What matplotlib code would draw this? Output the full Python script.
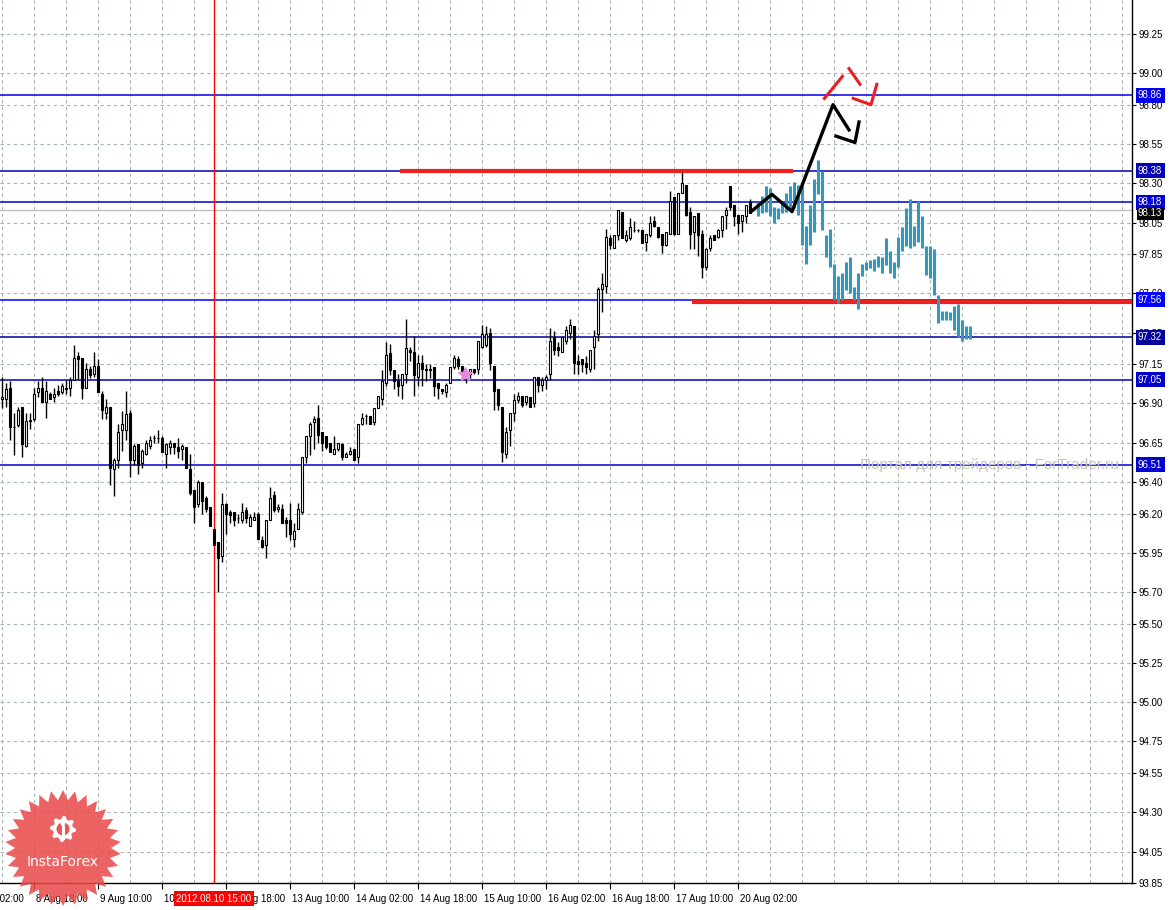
import matplotlib.pyplot as plt
import numpy as np
from matplotlib.patches import Polygon, Circle

plt.rcParams['font.family'] = ['Liberation Sans', 'DejaVu Sans']

# H1 candles, bar 0 = 2012.08.08 10:00
opens = [96.93, 96.93, 97.00, 96.75, 96.76, 96.88, 96.63, 96.79, 96.80, 96.97,
         97.00, 96.91, 96.96, 96.94, 96.98, 96.97, 97.00, 97.00, 97.05, 97.20,
         97.19, 97.00, 97.12, 97.09, 97.14, 96.96, 96.84, 96.88, 96.48, 96.54,
         96.73, 96.73, 96.84, 96.54, 96.64, 96.52, 96.58, 96.63, 96.68, 96.68,
         96.68, 96.58, 96.62, 96.65, 96.62, 96.61, 96.62, 96.48, 96.35, 96.26,
         96.40, 96.30, 96.24, 96.10, 96.02, 95.93, 96.26, 96.21, 96.21, 96.17,
         96.16, 96.22, 96.12, 96.16, 96.20, 96.03, 96.00, 96.16, 96.32, 96.23,
         96.23, 96.16, 96.16, 96.04, 96.10, 96.21, 96.56, 96.69, 96.78, 96.81,
         96.72, 96.69, 96.65, 96.58, 96.61, 96.64, 96.56, 96.58, 96.61, 96.56,
         96.77, 96.82, 96.82, 96.78, 96.87, 96.93, 97.03, 97.22, 97.11, 97.05,
         97.02, 97.09, 97.24, 97.23, 97.07, 97.16, 97.12, 97.11, 97.13, 97.03,
         96.99, 96.97, 97.03, 97.13, 97.18, 97.14, 97.08, 97.09, 97.12, 97.12,
         97.26, 97.27, 97.35, 97.14, 96.99, 96.88, 96.58, 96.73, 96.84, 96.92,
         96.95, 96.91, 96.94, 96.90, 97.07, 97.02, 97.05, 97.09, 97.32, 97.26,
         97.23, 97.30, 97.35, 97.39, 97.17, 97.18, 97.16, 97.12, 97.26, 97.34,
         97.63, 97.65, 97.95, 97.89, 97.97, 98.12, 97.94, 97.95, 98.00, 98.00,
         98.00, 97.93, 97.97, 98.06, 98.02, 97.98, 97.91, 97.98, 98.21, 97.98,
         98.24, 98.29, 98.12, 97.99, 98.11, 97.98, 97.77, 97.89, 97.97, 97.96,
         98.00, 98.10, 98.28, 98.16, 98.10, 98.06, 98.09, 98.18]
highs = [97.07, 97.03, 97.04, 96.84, 96.88, 96.88, 96.84, 96.84, 97.00, 97.04,
         97.07, 97.04, 96.97, 97.00, 97.02, 97.03, 97.05, 97.07, 97.27, 97.23,
         97.19, 97.16, 97.14, 97.23, 97.18, 96.98, 96.93, 96.88, 96.55, 96.77,
         96.85, 96.98, 96.86, 96.64, 96.64, 96.61, 96.67, 96.69, 96.70, 96.73,
         96.69, 96.65, 96.67, 96.65, 96.68, 96.64, 96.62, 96.58, 96.35, 96.41,
         96.40, 96.31, 96.24, 96.10, 96.02, 96.33, 96.27, 96.22, 96.21, 96.20,
         96.27, 96.24, 96.20, 96.21, 96.21, 96.06, 96.16, 96.37, 96.34, 96.26,
         96.26, 96.18, 96.27, 96.14, 96.27, 96.56, 96.69, 96.78, 96.82, 96.89,
         96.72, 96.69, 96.65, 96.69, 96.65, 96.65, 96.59, 96.62, 96.61, 96.77,
         96.84, 96.83, 96.82, 96.87, 96.95, 97.11, 97.29, 97.28, 97.11, 97.09,
         97.09, 97.44, 97.26, 97.33, 97.21, 97.21, 97.15, 97.15, 97.13, 97.03,
         96.99, 97.03, 97.13, 97.21, 97.20, 97.14, 97.12, 97.12, 97.12, 97.30,
         97.40, 97.39, 97.38, 97.14, 96.99, 96.88, 96.75, 96.84, 96.96, 96.97,
         96.95, 96.95, 96.94, 97.07, 97.07, 97.07, 97.08, 97.38, 97.36, 97.29,
         97.32, 97.39, 97.44, 97.39, 97.21, 97.18, 97.20, 97.24, 97.37, 97.64,
         97.73, 98.01, 97.97, 97.97, 98.13, 98.12, 98.00, 98.08, 98.06, 98.01,
         98.00, 97.98, 98.09, 98.09, 98.02, 97.98, 97.99, 98.25, 98.21, 98.24,
         98.37, 98.29, 98.15, 98.09, 98.11, 98.00, 97.89, 97.97, 97.97, 98.01,
         98.09, 98.15, 98.28, 98.16, 98.10, 98.10, 98.16, 98.20]
lows = [96.87, 96.88, 96.67, 96.57, 96.75, 96.56, 96.62, 96.74, 96.79, 96.94,
        96.91, 96.81, 96.93, 96.91, 96.95, 96.96, 96.96, 96.95, 97.05, 97.05,
        96.93, 97.00, 97.06, 97.07, 96.97, 96.80, 96.80, 96.38, 96.31, 96.49,
        96.60, 96.67, 96.43, 96.51, 96.45, 96.49, 96.57, 96.61, 96.65, 96.65,
        96.59, 96.49, 96.58, 96.58, 96.55, 96.54, 96.49, 96.32, 96.14, 96.24,
        96.20, 96.21, 96.12, 96.00, 95.70, 95.89, 96.07, 96.14, 96.12, 96.14,
        96.14, 96.14, 96.12, 96.16, 96.04, 95.98, 95.92, 96.16, 96.21, 96.21,
        96.14, 96.05, 96.03, 95.99, 96.10, 96.20, 96.52, 96.57, 96.61, 96.65,
        96.60, 96.61, 96.59, 96.58, 96.60, 96.54, 96.56, 96.57, 96.54, 96.52,
        96.76, 96.77, 96.77, 96.76, 96.87, 96.89, 97.01, 97.08, 96.99, 96.95,
        96.93, 97.03, 97.17, 96.95, 97.01, 97.01, 97.04, 97.06, 96.95, 96.93,
        96.96, 96.94, 97.03, 97.12, 97.12, 97.08, 97.03, 97.06, 97.09, 97.09,
        97.25, 97.26, 97.11, 96.86, 96.86, 96.53, 96.55, 96.63, 96.79, 96.90,
        96.88, 96.89, 96.88, 96.88, 96.97, 96.98, 96.99, 97.05, 97.21, 97.20,
        97.23, 97.28, 97.31, 97.09, 97.09, 97.10, 97.09, 97.10, 97.12, 97.30,
        97.48, 97.60, 97.88, 97.89, 97.94, 97.95, 97.93, 97.94, 97.99, 97.99,
        97.92, 97.87, 97.96, 98.02, 97.95, 97.86, 97.90, 97.98, 97.97, 97.98,
        98.24, 98.09, 97.88, 97.88, 97.84, 97.70, 97.75, 97.87, 97.94, 97.95,
        97.96, 98.01, 98.13, 98.03, 97.98, 97.99, 98.05, 98.11]
closes = [96.94, 96.99, 96.75, 96.75, 96.86, 96.64, 96.79, 96.79, 96.96, 97.00,
          96.91, 96.98, 96.93, 96.96, 96.96, 97.01, 96.99, 97.05, 97.19, 97.18,
          97.00, 97.12, 97.08, 97.14, 96.97, 96.86, 96.88, 96.49, 96.54, 96.72,
          96.77, 96.83, 96.54, 96.63, 96.51, 96.60, 96.65, 96.67, 96.68, 96.68,
          96.59, 96.64, 96.65, 96.62, 96.60, 96.63, 96.49, 96.33, 96.24, 96.40,
          96.28, 96.23, 96.12, 96.00, 95.92, 96.26, 96.20, 96.19, 96.16, 96.17,
          96.21, 96.17, 96.18, 96.18, 96.04, 95.99, 96.16, 96.30, 96.22, 96.24,
          96.14, 96.14, 96.07, 96.09, 96.23, 96.56, 96.69, 96.77, 96.80, 96.70,
          96.65, 96.62, 96.59, 96.61, 96.65, 96.56, 96.58, 96.60, 96.54, 96.77,
          96.81, 96.82, 96.77, 96.87, 96.95, 97.04, 97.21, 97.11, 97.04, 97.01,
          97.09, 97.25, 97.23, 97.08, 97.16, 97.12, 97.11, 97.12, 97.01, 97.00,
          96.98, 97.02, 97.13, 97.19, 97.14, 97.09, 97.10, 97.12, 97.10, 97.30,
          97.34, 97.34, 97.16, 96.98, 96.89, 96.59, 96.72, 96.84, 96.92, 96.95,
          96.89, 96.95, 96.88, 97.07, 97.02, 97.05, 97.07, 97.30, 97.24, 97.24,
          97.32, 97.37, 97.40, 97.16, 97.15, 97.15, 97.13, 97.24, 97.33, 97.63,
          97.66, 97.96, 97.91, 97.97, 98.13, 97.95, 97.97, 98.02, 98.00, 98.00,
          97.92, 97.98, 98.05, 98.03, 97.96, 97.91, 97.99, 98.19, 97.98, 98.24,
          98.30, 98.10, 97.98, 98.09, 97.97, 97.77, 97.88, 97.95, 97.94, 98.00,
          98.09, 98.13, 98.15, 98.09, 98.05, 98.10, 98.16, 98.11]

# overlay of a past pattern (teal bars), starts at bar 189
pattern_start = 189
pattern_high = [98.18, 98.22, 98.28, 98.27, 98.15, 98.14, 98.19, 98.24, 98.28, 98.31,
                98.29, 98.29, 98.03, 98.16, 98.33, 98.45, 98.38, 97.97, 98.01, 97.79,
                97.71, 97.73, 97.80, 97.83, 97.64, 97.73, 97.79, 97.80, 97.81, 97.82,
                97.84, 97.83, 97.95, 97.87, 97.80, 97.96, 98.02, 98.14, 98.20, 98.03,
                98.19, 98.09, 97.90, 97.90, 97.88, 97.59, 97.49, 97.49, 97.48, 97.52,
                97.53, 97.43, 97.39, 97.39]
pattern_low = [98.09, 98.11, 98.12, 98.09, 98.05, 98.07, 98.11, 98.12, 98.13, 98.14,
               98.10, 97.91, 97.79, 97.91, 97.99, 98.23, 98.00, 97.83, 97.77, 97.56,
               97.54, 97.56, 97.62, 97.60, 97.56, 97.50, 97.71, 97.75, 97.76, 97.74,
               97.77, 97.73, 97.78, 97.73, 97.70, 97.77, 97.87, 97.90, 97.89, 97.90,
               97.93, 97.89, 97.72, 97.70, 97.59, 97.41, 97.43, 97.43, 97.43, 97.37,
               97.32, 97.30, 97.31, 97.31]

levels = [98.86, 98.38, 98.18, 97.56, 97.32, 97.05, 96.51]
level_colors = ['#0000ee', '#0000b4', '#0000d8', '#0000ff', '#00009c', '#0000c8', '#0000d0']
bid = 98.13

# red resistance / support segments (bar from, bar to, price)
res_line = (99.5, 197.75, 98.38)
sup_line = (172.5, 282.5, 97.548)

# hand drawn forecast
fc_x = [187.25, 192.5, 197.5, 207.75, 211.75]
fc_y = [98.12, 98.23, 98.12, 98.80, 98.64]
fc2_x = [208.5, 213.25, 214.25]
fc2_y = [98.60, 98.56, 98.69]
red_strokes = [([205.6, 210.1], [98.84, 98.98]),
               ([211.75, 214.5], [99.03, 98.93]),
               ([212.8, 217.25, 218.7], [98.84, 98.80, 98.93])]

signal_x, signal_y = 115.8, 97.087
cursor_bar = 53

price_ticks = [99.25, 99.00, 98.80, 98.55, 98.30, 98.05, 97.85, 97.60, 97.35, 97.15,
               96.90, 96.65, 96.40, 96.20, 95.95, 95.70, 95.50, 95.25, 95.00, 94.75,
               94.55, 94.30, 94.05, 93.85]
time_ticks = [-8, 8, 24, 40, 56, 72, 88, 104, 120, 136, 152, 168, 184]
time_labels = ['8 Aug 02:00', '8 Aug 18:00', '9 Aug 10:00', '10 Aug 02:00', '10 Aug 18:00',
               '13 Aug 10:00', '14 Aug 02:00', '14 Aug 18:00', '15 Aug 10:00',
               '16 Aug 02:00', '16 Aug 18:00', '17 Aug 10:00', '20 Aug 02:00']

W, H = 1175, 910
fig = plt.figure(figsize=(W / 100, H / 100), dpi=100)
fig.patch.set_facecolor('white')
ax = fig.add_axes([0, 27 / H, 1132 / W, 883 / H])
ax.set_xlim(-0.5, 282.5)
ax.set_ylim(93.85, 99.466)

grid_col = '#a8b4b0'
for p in price_ticks:
    ax.axhline(p, color=grid_col, lw=0.8, dashes=(3, 3), zorder=0)
for i in range(0, 283, 8):
    ax.axvline(i, color=grid_col, lw=0.8, dashes=(3, 3), zorder=0)

# levels
for lv, col in zip(levels, level_colors):
    ax.axhline(lv, color=col, lw=1.1, zorder=2)
ax.axhline(bid, color='#c0c0c0', lw=1.0, zorder=1)
ax.axvline(cursor_bar, color='#ff0000', lw=1.0, zorder=2)

ax.plot(res_line[:2], [res_line[2]] * 2, color='#ee2020', lw=3, solid_capstyle='butt', zorder=3)
ax.plot(sup_line[:2], [sup_line[2]] * 2, color='#ee2020', lw=3, solid_capstyle='butt', zorder=3)

# candles
o = np.array(opens); c = np.array(closes)
x = np.arange(len(o))
ax.vlines(x, lows, highs, color='black', lw=1.0, zorder=4)
up = c >= o
body_h = np.maximum(np.abs(c - o), 0.003)
ax.bar(x, body_h, bottom=np.minimum(o, c), width=0.62,
       color=np.where(up, 'white', 'black'), edgecolor='black', linewidth=0.8, zorder=5)

# pattern overlay (about 3 px wide bars)
xp = pattern_start + np.arange(len(pattern_high))
ax.vlines(xp, pattern_low, pattern_high, color='#3597bd', lw=2.2, zorder=5)

ax.plot(signal_x, signal_y, marker='*', ms=10, color='#e58ad8', zorder=6)

# drawings
ax.plot(fc_x, fc_y, color='black', lw=2.4, zorder=7)
ax.plot(fc2_x, fc2_y, color='black', lw=2.4, zorder=7)
for sx, sy in red_strokes:
    ax.plot(sx, sy, color='#ee1c24', lw=2.2, zorder=7)

# axes styling
for s in ['top', 'left']:
    ax.spines[s].set_visible(False)
ax.spines['right'].set_linewidth(1.0)
ax.spines['bottom'].set_linewidth(1.0)
ax.yaxis.tick_right()
ax.set_yticks(price_ticks)
ax.set_yticklabels([f'{p:.2f}' for p in price_ticks])
ax.tick_params(axis='y', direction='out', length=3, pad=2, labelsize=7)
ax.set_xticks(time_ticks[1:])
ax.set_xticklabels([])
ax.tick_params(axis='x', direction='out', length=4)

xtr = ax.get_xaxis_transform()
for t, lab in zip(time_ticks, time_labels):
    ax.text(t + 0.4, -0.018, lab, transform=xtr, ha='left', va='center', fontsize=7,
            clip_on=False, zorder=8)
ax.text(cursor_bar, -0.018, '2012.08.10 15:00', transform=xtr, ha='center', va='center',
        fontsize=7, color='white', clip_on=False, zorder=9,
        bbox=dict(boxstyle='square,pad=0.25', fc='#ff0000', ec='none'))

ytr = ax.get_yaxis_transform()
for lv, col in zip(levels, level_colors):
    ax.text(1.0053, lv, f'{lv:.2f}', transform=ytr, ha='left', va='center', fontsize=7,
            color='white', clip_on=False, zorder=9,
            bbox=dict(boxstyle='square,pad=0.25', fc=col, ec='none'))
ax.text(1.0053, bid - 0.02, f'{bid:.2f}', transform=ytr, ha='left', va='center', fontsize=7,
        color='white', clip_on=False, zorder=9,
        bbox=dict(boxstyle='square,pad=0.15', fc='black', ec='none'))

fig.text(860 / W, 1 - 465 / H, 'Портал для трейдеров - ForTrader.ru', color='#c4c4c4',
         fontsize=11, ha='left', va='center', zorder=10)

# InstaForex logo
lg = fig.add_axes([0, 0, 130 / W, 130 / H])
lg.set_xlim(0, 130)
lg.set_ylim(910, 780)
lg.axis('off')
lg.patch.set_alpha(0)
n = 30
ang = np.linspace(0, 2 * np.pi, 2 * n, endpoint=False) - np.pi / 2
rad = np.where(np.arange(2 * n) % 2 == 0, 58, 48)
lg.add_patch(Polygon(np.c_[63 + rad * np.cos(ang), 848 + rad * np.sin(ang)],
                     closed=True, fc='#e94848', ec='none', alpha=0.85))
g_ang = np.linspace(0, 2 * np.pi, 32, endpoint=False)
g_rad = np.where((np.arange(32) // 2) % 2 == 0, 13, 10)
lg.add_patch(Polygon(np.c_[63 + g_rad * np.cos(g_ang), 829 + g_rad * np.sin(g_ang)],
                     closed=True, fc='white', ec='none'))
lg.add_patch(Circle((63, 829), 6.5, fc='#ea5555', ec='none'))
lg.add_patch(Circle((63, 824), 2.2, fc='white', ec='none'))
lg.plot([63, 63], [827, 838], color='white', lw=2.2)
lg.text(63, 862, 'InstaForex', color='white', fontsize=10, ha='center', va='center',
        family='DejaVu Sans')

fig.savefig('out.png', dpi=100, facecolor='white')
